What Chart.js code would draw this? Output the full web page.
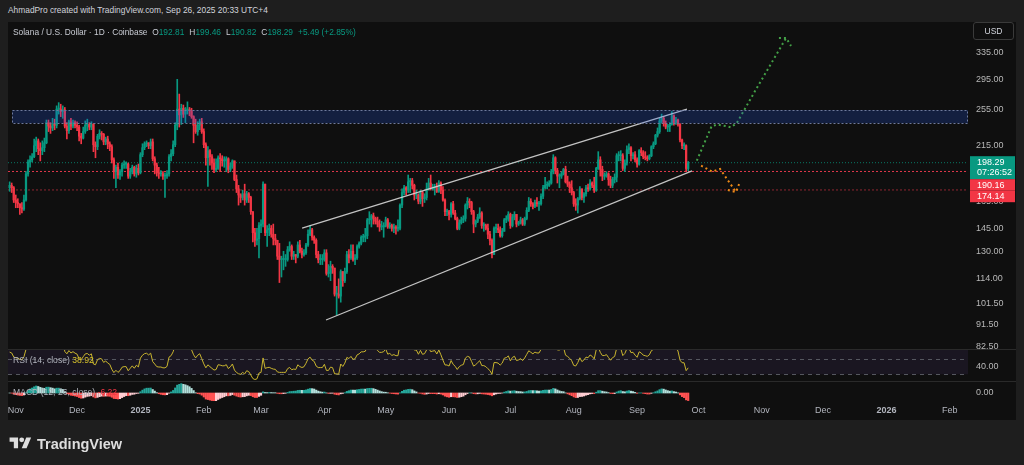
<!DOCTYPE html>
<html lang="en">
<head>
<meta charset="UTF-8" />
<title>SOLUSD 1D</title>
<script src="https://cdn.jsdelivr.net/npm/chart.js"></script>
<style>
  html, body { margin: 0; padding: 0; }
  body { width: 1024px; height: 465px; background: #1e1e1e; position: relative; overflow: hidden;
         font-family: "Liberation Sans", Arial, sans-serif; color: #d1d4dc; }
  .abs { position: absolute; }
  #frame { left: 8px; top: 22px; width: 1008px; height: 398px; background: #0f0f0f; }
  #header { left: 8px; top: 5px; font-size: 8.4px; color: #d1d4dc; white-space: nowrap; }
  #legend { left: 13px; top: 27px; font-size: 8.4px; color: #c8cbd3; white-space: nowrap; }
  #legend .v { color: #089981; margin-right: 5px; }
  .sep { left: 8px; width: 1008px; height: 1px; background: #2a2a2a; }
  #usd { left: 973px; top: 22px; width: 39px; height: 16px; border: 1px solid #3a3a3a; border-radius: 3px;
         font-size: 8.5px; line-height: 16px; text-align: center; color: #d1d4dc; }
  .pane-label { font-size: 8.6px; color: #b2b5be; white-space: nowrap; }
  #logo { left: 9px; top: 435px; display: flex; align-items: center; gap: 5px; color: #dedede;
          font-weight: bold; font-size: 14.5px; }
</style>
</head>
<body>
  <div id="frame" class="abs"></div>
  <div id="header" class="abs">AhmadPro created with TradingView.com, Sep 26, 2025 20:33 UTC+4</div>

  <div class="abs" style="left:8px;top:22px"><canvas id="priceChart" width="1008" height="327"></canvas></div>
  <div class="abs" style="left:8px;top:349px"><canvas id="rsiChart" width="1008" height="32"></canvas></div>
  <div class="abs" style="left:8px;top:382px"><canvas id="macdChart" width="1008" height="38"></canvas></div>

  <div class="sep abs" style="top:349px"></div>
  <div class="sep abs" style="top:381px"></div>

  <div id="legend" class="abs">Solana / U.S. Dollar · 1D · Coinbase&nbsp;&nbsp;O<span class="v">192.81</span>H<span class="v">199.46</span>L<span class="v">190.82</span>C<span class="v">198.29</span><span class="v">+5.49 (+2.85%)</span></div>
  <div id="usd" class="abs">USD</div>
  <div class="abs pane-label" style="left:13px;top:355px">RSI (14, close) <span style="color:#d6c22b">38.92</span></div>
  <div class="abs pane-label" style="left:13px;top:387px">MACD (12, 26, close) <span style="color:#f23645">-6.22</span></div>

  <div id="logo" class="abs">
    <svg width="23" height="17" viewBox="0 0 36 28"><path d="M14 22H7V11H0V4h14v18z" fill="#dedede"/><circle cx="20" cy="8" r="4" fill="#dedede"/><path d="M28 22h-8l7.5-18h8z" fill="#dedede"/></svg>
    <span>TradingView</span>
  </div>

<script>
  // day 0 = Nov 1 2024; first candle is Oct 29 2024
  const firstDay = -3;
  const firstOpen = 176;

  const closes = [
    178, 176, 166,
    164, 163, 160, 159, 166, 188, 199, 201, 204, 215, 220, 212, 210, 213, 218, 240, 236, 234, 238, 237, 256, 256, 253, 255, 236, 231, 241, 236, 240, 237,
    235, 225, 223, 230, 237, 238, 235, 238, 216, 214, 225, 228, 227, 219, 222, 217, 214, 201, 190, 194, 187, 190, 196, 197, 197, 186, 190, 194, 188, 193, 189,
    206, 213, 217, 218, 215, 219, 202, 196, 189, 188, 188, 186, 186, 188, 204, 207, 216, 237, 256, 249, 257, 250, 255, 255, 254, 247, 237, 230, 237, 241, 230,
    216, 203, 210, 204, 198, 192, 193, 203, 202, 200, 200, 202, 192, 195, 200, 183, 175, 170, 168, 171, 166, 171, 168, 157, 142, 137, 138, 147,
    148, 179, 142, 144, 145, 141, 138, 137, 127, 125, 125, 125, 125, 131, 133, 127, 128, 127, 134, 130, 128, 129, 134, 141, 144, 139, 137, 128, 125, 125, 125,
    129, 117, 117, 121, 120, 106, 106, 105, 118, 113, 118, 128, 126, 130, 125, 126, 133, 135, 139, 139, 140, 151, 151, 154, 152, 150, 148, 146, 146, 147,
    151, 146, 147, 145, 146, 145, 145, 162, 172, 176, 174, 181, 182, 178, 170, 170, 165, 172, 167, 168, 175, 180, 175, 176, 177, 173, 180, 174, 166, 157, 157,
    155, 163, 156, 152, 145, 149, 151, 152, 162, 165, 164, 157, 148, 150, 153, 156, 147, 147, 145, 141, 137, 128, 145, 145, 144, 140, 143, 151, 152, 155,
    147, 153, 155, 148, 149, 151, 148, 152, 158, 165, 163, 161, 164, 163, 163, 169, 176, 178, 178, 180, 190, 203, 191, 186, 186, 188, 192, 181, 179, 176, 172,
    163, 162, 167, 175, 168, 171, 176, 175, 180, 178, 174, 193, 201, 192, 186, 186, 188, 183, 178, 183, 185, 205, 205, 205, 193, 198, 211, 213, 205, 206, 201,
    197, 210, 208, 204, 203, 202, 205, 214, 217, 226, 230, 242, 245, 239, 235, 236, 238, 248, 240, 243, 238, 221, 215, 215, 192.81, 198.29
  ];
  const highs = [
    181, 180, 177,
    170, 167, 163, 164, 170, 190, 201, 205, 207, 222, 224, 222, 218, 220, 223, 243, 243, 240, 245, 244, 260, 264, 262, 260, 258, 240, 243, 245, 243, 242,
    241, 237, 228, 235, 242, 244, 240, 241, 239, 219, 227, 232, 230, 228, 224, 225, 219, 216, 203, 196, 198, 192, 198, 200, 199, 198, 193, 196, 195, 196, 197,
    208, 217, 219, 220, 218, 222, 222, 204, 198, 194, 191, 190, 189, 191, 206, 211, 220, 240, 295, 275, 262, 261, 258, 265, 258, 257, 248, 244, 241, 244, 245,
    233, 218, 214, 211, 206, 202, 202, 205, 207, 205, 204, 204, 203, 198, 201, 200, 187, 178, 171, 174, 179, 173, 172, 169, 157, 145, 145, 149,
    151, 181, 179, 147, 148, 147, 148, 141, 137, 135, 127, 130, 128, 133, 136, 134, 130, 128, 136, 137, 132, 131, 135, 144, 147, 145, 140, 138, 130, 128, 128,
    131, 131, 122, 124, 122, 120, 110, 114, 119, 118, 120, 130, 131, 134, 134, 128, 134, 136, 140, 141, 145, 152, 157, 155, 156, 153, 153, 151, 150, 149,
    153, 152, 149, 148, 148, 147, 151, 163, 175, 178, 177, 187, 184, 184, 179, 174, 171, 174, 173, 171, 180, 184, 187, 179, 179, 180, 182, 181, 177, 167, 159,
    158, 164, 165, 158, 153, 151, 153, 154, 163, 168, 167, 165, 158, 151, 155, 160, 157, 149, 148, 148, 143, 138, 146, 148, 148, 146, 145, 152, 154, 157,
    156, 155, 157, 155, 150, 153, 152, 153, 160, 168, 167, 164, 166, 168, 165, 171, 178, 185, 181, 182, 192, 206, 204, 193, 188, 190, 193, 195, 186, 181, 182,
    173, 167, 168, 177, 175, 172, 178, 179, 183, 181, 185, 194, 209, 204, 195, 189, 190, 189, 186, 185, 188, 207, 209, 210, 207, 201, 215, 217, 214, 208, 209,
    203, 211, 213, 210, 209, 205, 206, 215, 219, 227, 234, 245, 250, 247, 242, 238, 240, 253, 249, 246, 244, 239, 222, 218, 216, 199.46
  ];
  const lows = [
    173, 172, 164,
    160, 160, 155, 156, 158, 165, 186, 194, 199, 203, 209, 206, 200, 206, 209, 217, 230, 228, 231, 232, 234, 250, 247, 245, 234, 222, 228, 232, 234, 234,
    231, 220, 217, 222, 228, 231, 232, 232, 209, 203, 211, 222, 221, 216, 216, 212, 210, 198, 184, 176, 184, 183, 186, 193, 193, 184, 184, 188, 186, 185, 187,
    188, 204, 211, 214, 212, 212, 200, 188, 186, 184, 186, 183, 168, 184, 186, 200, 205, 214, 232, 235, 238, 246, 240, 250, 248, 245, 218, 228, 226, 232, 228,
    213, 196, 177, 196, 192, 189, 190, 192, 190, 195, 194, 190, 189, 190, 193, 182, 172, 162, 164, 166, 162, 164, 164, 155, 136, 133, 134, 126,
    142, 146, 140, 133, 140, 139, 134, 134, 125, 112, 115, 119, 121, 124, 130, 125, 125, 123, 126, 129, 126, 127, 128, 133, 140, 137, 135, 126, 123, 122, 122,
    124, 116, 115, 113, 117, 105, 96, 104, 102, 110, 112, 117, 123, 125, 124, 122, 125, 132, 134, 136, 136, 138, 148, 146, 148, 148, 146, 143, 144, 139,
    146, 145, 145, 143, 142, 141, 143, 144, 160, 170, 170, 172, 172, 175, 166, 167, 163, 163, 161, 164, 166, 174, 174, 174, 170, 172, 172, 171, 165, 154, 154,
    151, 153, 155, 151, 144, 144, 148, 149, 150, 159, 160, 155, 142, 146, 149, 152, 145, 143, 144, 138, 134, 126, 128, 142, 142, 139, 139, 143, 149, 150,
    145, 146, 151, 146, 147, 148, 147, 147, 151, 157, 161, 159, 160, 161, 158, 162, 167, 175, 175, 177, 179, 188, 188, 180, 176, 184, 187, 180, 177, 172, 170,
    161, 158, 156, 166, 166, 164, 169, 173, 174, 176, 172, 173, 192, 186, 182, 183, 185, 178, 176, 176, 180, 181, 200, 200, 191, 190, 196, 207, 200, 202, 199,
    194, 196, 205, 202, 201, 200, 201, 204, 212, 216, 224, 228, 240, 236, 233, 230, 230, 237, 237, 238, 236, 219, 212, 211, 190, 190.82
  ];

  // time axis
  const monthDays = [0, 30, 61, 92, 120, 151, 181, 212, 242, 273, 304, 334, 365, 395, 426, 457];
  const monthLabels = ['Nov', 'Dec', '2025', 'Feb', 'Mar', 'Apr', 'May', 'Jun', 'Jul', 'Aug', 'Sep', 'Oct', 'Nov', 'Dec', '2026', 'Feb'];
  const xMin = -3.8, xMax = 465.9;

  // price axis
  const priceTicks = [82.5, 91.5, 101.5, 114, 130, 145, 165, 190, 215, 255, 295, 335];
  const priceMin = 81.6, priceMax = 387.7;

  // levels and drawings
  const lastClose = 198.29;
  const countdown = '07:26:52';
  const levelA = 190.16;
  const levelB = 174.14;
  const zoneStartDay = -1.8, zoneLow = 240, zoneHigh = 254.5;
  const upperChannelDays = [140.1, 328.4], upperChannelPrices = [145.2, 256];
  const lowerChannelDays = [151.8, 330.9], lowerChannelPrices = [93.7, 190.7];
  const bullPathDays = [333.2, 340.5, 343.6, 347.8, 349.8, 352.7, 362.5, 376.9];
  const bullPathPrices = [200.2, 236.2, 237.7, 235.9, 234.7, 239.3, 282.7, 359.3];
  const bullArrowDays = [373.4, 376.9, 379.3], bullArrowPrices = [359.3, 359.3, 345.9];
  const bearPathDays = [335.3, 340.8, 344.6, 352.4];
  const bearPathPrices = [195.5, 190.0, 192.4, 172.4];
  const bearArrowDays = [348.4, 352.4, 353.9], bearArrowPrices = [174.1, 172.4, 179.1];

  // RSI pane
  const rsiLength = 14, rsiSeedGain = 5, rsiSeedLoss = 3.5;
  const rsiMin = 21.1, rsiMax = 63.7;

  const UP = '#089981', DOWN = '#f23645';

  Chart.defaults.font.family = '"Liberation Sans", Arial, sans-serif';
  Chart.defaults.font.size = 9;

  const days = closes.map((c, i) => firstDay + i);
  const opens = closes.map((c, i) => (i === 0 ? firstOpen : closes[i - 1]));
  const candleColors = closes.map((c, i) => (c >= opens[i] ? UP : DOWN));

  const pts = (xs, ys) => xs.map((x, i) => ({ x: x, y: ys[i] }));
  const lineDs = (data, color, width, dash) => ({
    type: 'line', data: data, borderColor: color, borderWidth: width, borderDash: dash || [],
    pointRadius: 0, tension: 0, fill: false
  });

  const fixY = s => { s.width = 48; s.paddingTop = 0; s.paddingBottom = 0; };
  const fixX = s => { s.height = 19; s.paddingLeft = 0; s.paddingRight = 0; };

  // indicators
  const rsiValues = [];
  (() => {
    let g = rsiSeedGain, l = rsiSeedLoss, prev = firstOpen;
    closes.forEach(c => {
      const d = c - prev; prev = c;
      g = (g * (rsiLength - 1) + Math.max(d, 0)) / rsiLength;
      l = (l * (rsiLength - 1) + Math.max(-d, 0)) / rsiLength;
      rsiValues.push(100 - 100 / (1 + g / l));
    });
  })();

  const ema = (vals, len) => { const k = 2 / (len + 1); let e = vals[0]; return vals.map(v => (e = v * k + e * (1 - k))); };
  const ema12 = ema(closes, 12), ema26 = ema(closes, 26);
  const macdLine = ema12.map((v, i) => v - ema26[i]);
  const signalLine = ema(macdLine, 9);
  const hist = macdLine.map((v, i) => v - signalLine[i]);
  const histColors = hist.map((h, i) => {
    const p = i > 0 ? hist[i - 1] : 0;
    if (h >= 0) return h > p ? '#26a69a' : '#b2dfdb';
    return h < p ? '#ff5252' : '#ffcdd2';
  });

  // plugins
  const zonePlugin = {
    id: 'zone',
    afterDatasetsDraw(chart) {
      const { ctx, chartArea, scales: { x, y } } = chart;
      const left = Math.round(x.getPixelForValue(zoneStartDay));
      const top = Math.round(y.getPixelForValue(zoneHigh));
      const bottom = Math.round(y.getPixelForValue(zoneLow));
      ctx.save();
      ctx.fillStyle = 'rgba(35, 85, 230, 0.23)';
      ctx.fillRect(left, top, chartArea.right - left, bottom - top);
      ctx.strokeStyle = '#6f7a9c';
      ctx.lineWidth = 1;
      ctx.setLineDash([2, 2]);
      ctx.strokeRect(left + 0.5, top + 0.5, chartArea.right - left - 1, bottom - top);
      ctx.restore();
    }
  };

  const priceLabelPlugin = {
    id: 'priceLabels',
    afterDraw(chart) {
      const { ctx, chartArea, scales: { y } } = chart;
      const x0 = chartArea.right + 2, w = 45;
      const box = (color, top, h, lines) => {
        ctx.fillStyle = color;
        ctx.fillRect(x0, top, w, h);
        ctx.fillStyle = '#ffffff';
        ctx.font = '9px "Liberation Sans", Arial, sans-serif';
        ctx.textBaseline = 'middle';
        ctx.textAlign = 'left';
        lines.forEach((t, i) => ctx.fillText(t, x0 + 7, top + 6 + i * 10.5));
      };
      ctx.save();
      let top = y.getPixelForValue(lastClose) - 6.5;
      box(UP, top, 23, [lastClose.toFixed(2), countdown]);
      top += 23;
      box(DOWN, top, 11.5, [levelA.toFixed(2)]);
      top += 11.5;
      box(DOWN, top, 11.5, [levelB.toFixed(2)]);
      ctx.restore();
    }
  };

  const rsiBandPlugin = {
    id: 'rsiBand',
    beforeDatasetsDraw(chart) {
      const { ctx, chartArea, scales: { y } } = chart;
      const top = Math.max(chartArea.top, y.getPixelForValue(70));
      const bottom = y.getPixelForValue(30);
      ctx.save();
      ctx.fillStyle = 'rgba(126, 87, 194, 0.1)';
      ctx.fillRect(chartArea.left, top, chartArea.right - chartArea.left, bottom - top);
      ctx.strokeStyle = '#55575f';
      ctx.setLineDash([4, 4]);
      ctx.lineWidth = 1;
      [70, 50, 30].forEach(v => {
        const py = Math.round(y.getPixelForValue(v)) + 0.5;
        ctx.beginPath(); ctx.moveTo(chartArea.left, py); ctx.lineTo(chartArea.right, py); ctx.stroke();
      });
      ctx.restore();
    }
  };

  const baseOptions = {
    responsive: false,
    animation: false,
    events: [],
    layout: { padding: 0 },
    plugins: { legend: { display: false }, tooltip: { enabled: false } }
  };

  const yAxis = (extra) => Object.assign({
    position: 'right',
    grid: { display: false, drawTicks: false },
    border: { display: false },
    afterFit: fixY,
    ticks: { autoSkip: false, padding: 8, color: '#b8b8b8', font: { size: 9 }, callback: v => Number(v).toFixed(2) }
  }, extra);

  // price pane
  new Chart(document.getElementById('priceChart'), {
    type: 'bar',
    data: {
      datasets: [
        lineDs(pts(bullArrowDays, bullArrowPrices), '#43a047', 2, [2, 3]),
        lineDs(pts(bullPathDays, bullPathPrices), '#43a047', 2, [2, 3]),
        lineDs(pts(bearArrowDays, bearArrowPrices), '#ef8a17', 2, [2, 3]),
        lineDs(pts(bearPathDays, bearPathPrices), '#ef8a17', 2, [2, 3]),
        lineDs(pts(upperChannelDays, upperChannelPrices), 'rgba(215,215,215,0.9)', 1.2),
        lineDs(pts(lowerChannelDays, lowerChannelPrices), 'rgba(215,215,215,0.9)', 1.2),
        {
          data: days.map((d, i) => ({ x: d, y: [opens[i], closes[i]] })),
          backgroundColor: candleColors, borderWidth: 0, barThickness: 1.6, minBarLength: 1, grouped: false
        },
        {
          data: days.map((d, i) => ({ x: d, y: [lows[i], highs[i]] })),
          backgroundColor: candleColors, borderWidth: 0, barThickness: 1, grouped: false
        },
        lineDs(pts([xMin, xMax], [lastClose, lastClose]), 'rgba(8,153,129,0.75)', 1, [1, 2]),
        lineDs(pts([xMin, xMax], [levelA, levelA]), '#e0394b', 1, [2, 2]),
        lineDs(pts([xMin, xMax], [levelB, levelB]), '#8e2630', 1, [2, 2])
      ]
    },
    options: Object.assign({}, baseOptions, {
      scales: {
        x: { type: 'linear', min: xMin, max: xMax, offset: false, display: false },
        y: yAxis({
          type: 'logarithmic', min: priceMin, max: priceMax,
          afterBuildTicks: s => { s.ticks = priceTicks.map(v => ({ value: v })); }
        })
      }
    }),
    plugins: [zonePlugin, priceLabelPlugin]
  });

  // RSI pane
  new Chart(document.getElementById('rsiChart'), {
    type: 'line',
    data: {
      datasets: [lineDs(pts(days, rsiValues), '#c9b52f', 1)]
    },
    options: Object.assign({}, baseOptions, {
      scales: {
        x: { type: 'linear', min: xMin, max: xMax, offset: false, display: false },
        y: yAxis({
          type: 'linear', min: rsiMin, max: rsiMax,
          afterBuildTicks: s => { s.ticks = [{ value: 40 }]; }
        })
      }
    }),
    plugins: [rsiBandPlugin]
  });

  // MACD pane + time axis
  const negMax = Math.max(...hist.map(h => -h)), posMax = Math.max(...hist);
  const unit = Math.max(posMax / 10, negMax / 8);
  new Chart(document.getElementById('macdChart'), {
    type: 'bar',
    data: {
      datasets: [{
        data: days.map((d, i) => ({ x: d, y: hist[i] })),
        backgroundColor: histColors, borderWidth: 0, barThickness: 1.5, grouped: false
      }]
    },
    options: Object.assign({}, baseOptions, {
      scales: {
        x: {
          type: 'linear', min: xMin, max: xMax, offset: false, position: 'bottom',
          grid: { display: false, drawTicks: false },
          border: { display: false },
          afterFit: fixX,
          afterBuildTicks: s => { s.ticks = monthDays.map(v => ({ value: v })); },
          ticks: {
            autoSkip: false, maxRotation: 0, minRotation: 0, padding: 4, color: '#b2b5be',
            font: ctx => ({ size: 9, weight: ctx.tick && /^\d{4}$/.test(ctx.tick.label) ? 'bold' : 'normal' }),
            callback: (v, i) => monthLabels[i]
          }
        },
        y: yAxis({
          type: 'linear', min: -8 * unit, max: 11 * unit,
          afterBuildTicks: s => { s.ticks = [{ value: 0 }]; }
        })
      }
    })
  });
</script>
</body>
</html>
